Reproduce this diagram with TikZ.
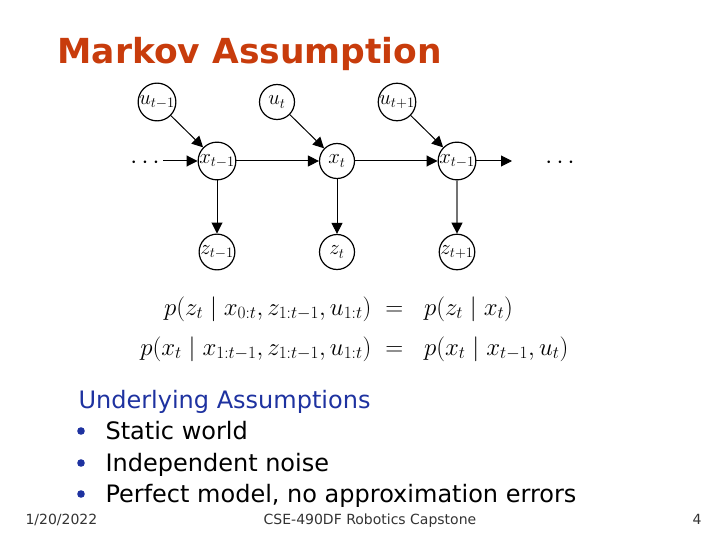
\documentclass[tikz,border=0pt]{standalone}
\usepackage{fontspec}
\setmainfont{DejaVu Sans}
\usetikzlibrary{arrows.meta}
\definecolor{titlered}{RGB}{200,60,12}
\definecolor{slideblue}{RGB}{30,50,160}
\tikzset{
  var/.style={draw,circle,minimum size=35pt,inner sep=0pt,line width=1.2pt,
    font=\fontsize{20}{20}\selectfont},
  edge/.style={line width=1pt,-{Triangle[length=11pt,width=11pt]}},
  body/.style={anchor=base west,font=\fontsize{24}{24}\selectfont},
  foot/.style={anchor=base,font=\fontsize{14}{14}\selectfont,text=black!80},
  eqn/.style={font=\fontsize{26}{26}\selectfont}
}
\begin{document}
\begin{tikzpicture}[x=1pt,y=-1pt]
  \useasboundingbox (0,0) rectangle (720,540);
  \node[anchor=base west,text=titlered,font=\fontsize{34.5}{34.5}\selectfont\bfseries] (title) at (54,64) {Markov Assumption};
  % graphical model
  \node[var] (u1) at (157,102) {$u_{t-1}$};
  \node[var] (u2) at (277,102) {$u_t$};
  \node[var] (u3) at (397,102) {$u_{t+1}$};
  \node[var] (x1) at (217,161) {$x_{t-1}$};
  \node[var] (x2) at (337,161) {$x_t$};
  \node[var] (x3) at (457,161) {$x_{t-1}$};
  \node[var] (z1) at (217,252) {$z_{t-1}$};
  \node[var] (z2) at (337,252) {$z_t$};
  \node[var] (z3) at (457,252) {$z_{t+1}$};
  \node[font=\fontsize{26}{26}\selectfont] (ldots) at (145,163) {$\cdots$};
  \node[font=\fontsize{26}{26}\selectfont] (rdots) at (560,163) {$\cdots$};
  \coordinate (lin) at (163,161);
  \coordinate (rout) at (512,161);
  \draw[edge] (lin) -- (x1);
  \draw[edge] (x1) -- (x2);
  \draw[edge] (x2) -- (x3);
  \draw[edge] (x3) -- (rout);
  \draw[edge] (u1) -- (x1);
  \draw[edge] (u2) -- (x2);
  \draw[edge] (u3) -- (x3);
  \draw[edge] (x1) -- (z1);
  \draw[edge] (x2) -- (z2);
  \draw[line width=1.3pt,draw=black!55,{Triangle[length=11pt,width=11pt,fill=black,color=black]}-] (z3) -- (x3);
  % equations
  \node[eqn,anchor=base east] (eq1l) at (375,315) {$p(z_t\mid x_{0:t},z_{1:t-1},u_{1:t})$};
  \node[eqn,anchor=base west] (eq1r) at (375,315) {$\;=\;\; p(z_t\mid x_t)$};
  \node[eqn,anchor=base east] (eq2l) at (375,355) {$p(x_t\mid x_{1:t-1},z_{1:t-1},u_{1:t})$};
  \node[eqn,anchor=base west] (eq2r) at (375,355) {$\;=\;\; p(x_t\mid x_{t-1},u_t)$};
  % assumptions
  \node[body,text=slideblue] (head) at (75,408) {Underlying Assumptions};
  \node[body] (a1) at (102,439) {Static world};
  \node[body] (a2) at (102,471) {Independent noise};
  \node[body] (a3) at (102,502) {Perfect model, no approximation errors};
  \foreach \b in {a1,a2,a3}
    \fill[slideblue] ([xshift=-21pt,yshift=8pt]\b.base west) circle (3.8pt);
  % footer
  \node[foot,anchor=base west] (date) at (22,524) {1/20/2022};
  \node[foot] (course) at (370,524) {CSE-490DF Robotics Capstone};
  \node[foot] (page) at (697,524) {4};
\end{tikzpicture}
\end{document}
